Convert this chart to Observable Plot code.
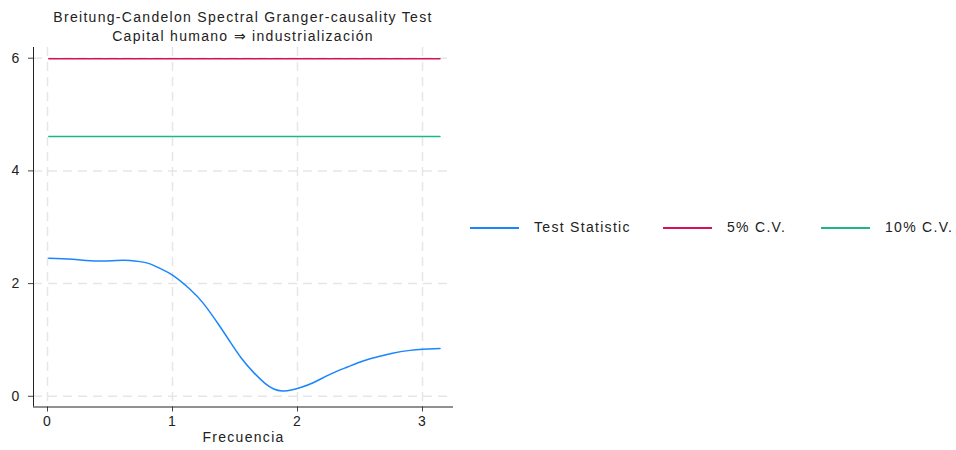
<!DOCTYPE html>
<html>
<head>
<meta charset="utf-8">
<script src="https://cdn.jsdelivr.net/npm/d3@7"></script>
<script src="https://cdn.jsdelivr.net/npm/@observablehq/plot@0.6"></script>
<style>
  body { margin: 0; background: #fff; font-family: "Liberation Sans", Arial, sans-serif; letter-spacing: 1.3px; }
  #wrap { position: relative; width: 956px; height: 450px; }
  #title { position: absolute; left: 13px; width: 460px; top: 8px; text-align: center; font-size: 14px; color: #222; line-height: 19px; }
  #chart { position: absolute; left: 0; top: 45px; }
  #legend { position: absolute; left: 470px; top: 219px; font-size: 14px; color: #222; }
  .item { position: absolute; white-space: nowrap; }
  .swatch { position: absolute; top: 8px; width: 49px; height: 1.6px; }
  .lab { position: absolute; top: 0; }
</style>
</head>
<body>
<div id="wrap">
  <div id="title">Breitung-Candelon Spectral Granger-causality Test<br>Capital humano ⇒ industrialización</div>
  <div id="chart"></div>
  <div id="legend"></div>
</div>
<script>
const freq = [0.01, 0.2, 0.4, 0.55, 0.66, 0.74, 0.82, 0.9, 1.0, 1.14, 1.25, 1.37, 1.46, 1.55, 1.65, 1.74, 1.81, 1.88, 1.95, 2.03, 2.13, 2.26, 2.40, 2.53, 2.66, 2.76, 2.9, 3.0, 3.14];
const stat = [2.45, 2.43, 2.40, 2.41, 2.41, 2.39, 2.35, 2.27, 2.15, 1.90, 1.64, 1.27, 0.97, 0.68, 0.42, 0.23, 0.13, 0.095, 0.11, 0.16, 0.245, 0.39, 0.52, 0.63, 0.71, 0.765, 0.815, 0.835, 0.85];
const cv5 = 5.99;
const cv10 = 4.61;
const freqRange = [0.01, 3.14];
const seriesNames = ["Test Statistic", "5% C.V.", "10% C.V."];
const seriesColors = ["#1a85ff", "#d41159", "#1db686"];
const xTicks = [0, 1, 2, 3];
const yTicks = [0, 2, 4, 6];

const statData = freq.map((f, i) => ({f, v: stat[i]}));
const cvData = [
  ...freqRange.map(f => ({f, v: cv5, s: seriesNames[1]})),
  ...freqRange.map(f => ({f, v: cv10, s: seriesNames[2]}))
];

const plot = Plot.plot({
  width: 460,
  height: 405,
  marginLeft: 33,
  marginRight: 7,
  marginTop: 2,
  marginBottom: 43.5,
  style: { fontFamily: "Liberation Sans, Arial, sans-serif", fontSize: "14px", color: "#222", background: "transparent", letterSpacing: "1.3px", overflow: "visible" },
  x: { domain: [-0.112, 3.248], ticks: xTicks, label: null },
  y: { domain: [-0.19, 6.19], ticks: yTicks, label: null },
  marks: [
    Plot.gridX(xTicks, { stroke: "#e6e6e6", strokeOpacity: 1, strokeWidth: 1.5, strokeDasharray: "9,6" }),
    Plot.gridY(yTicks, { stroke: "#e6e6e6", strokeOpacity: 1, strokeWidth: 1.5, strokeDasharray: "9,6" }),
    Plot.axisX(xTicks, { tickSize: 5, tickPadding: 4, stroke: "#444", fontSize: 14, tickFormat: d3.format("d"), label: null }),
    Plot.axisY(yTicks, { tickSize: 5, tickPadding: 8, stroke: "#444", fontSize: 14, tickFormat: d3.format("d"), label: null }),
    Plot.ruleY([-0.19], { stroke: "#222", strokeWidth: 1 }),
    Plot.ruleX([-0.112], { stroke: "#222", strokeWidth: 1 }),
    Plot.line(cvData, { x: "f", y: "v", z: "s", stroke: d => seriesColors[seriesNames.indexOf(d.s)], strokeWidth: 1.4 }),
    Plot.line(statData, { x: "f", y: "v", stroke: seriesColors[0], strokeWidth: 1.5, curve: "natural" }),
    Plot.text(["Frecuencia"], { frameAnchor: "bottom", dy: 35, fontSize: 14, fill: "#222" })
  ]
});
document.getElementById("chart").appendChild(plot);

const legend = document.getElementById("legend");
const offsets = [0, 193, 351];
seriesNames.forEach((n, i) => {
  const it = document.createElement("div");
  it.className = "item";
  it.style.left = offsets[i] + "px";
  it.innerHTML = `<div class="swatch" style="left:0;background:${seriesColors[i]}"></div><div class="lab" style="left:64px">${n}</div>`;
  legend.appendChild(it);
});
</script>
</body>
</html>
